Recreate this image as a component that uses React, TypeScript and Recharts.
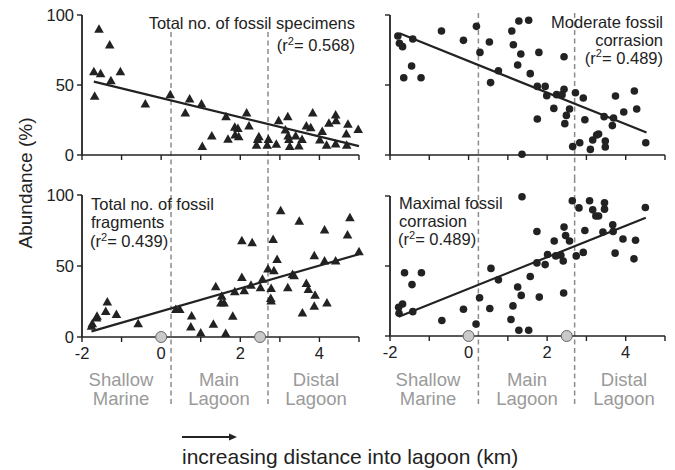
import React from 'react';
import { ScatterChart, Scatter, XAxis, YAxis, ReferenceLine } from 'recharts';

// [distance km, abundance %]
const SPECIMENS: [number, number][] = [
  [-1.7, 59.5], [-1.68, 42], [-1.57, 89.8], [-1.53, 58], [-1.3, 78.6], [-1.27, 53], [-1.03, 59.5],
  [-0.4, 36.4], [0.23, 43], [0.61, 30], [0.72, 40], [1.02, 36.4], [1.04, 6], [1.28, 13.6],
  [1.64, 27.4], [1.69, 11.2], [1.86, 19.8], [1.87, 14.3], [1.94, 19], [1.96, 13], [2.16, 30],
  [2.22, 20.7], [2.41, 7], [2.44, 11], [2.47, 13], [2.68, 7], [2.71, 11], [2.91, 7.6],
  [2.97, 24.5], [3.14, 17.9], [3.2, 27.4], [3.21, 13.6], [3.23, 11], [3.25, 6], [3.4, 13.6],
  [3.48, 6.4], [3.56, 11], [3.67, 20.7], [3.78, 19.5], [3.83, 30], [4.01, 10.7], [4.07, 16.7],
  [4.18, 6.9], [4.24, 22.6], [4.41, 28.6], [4.42, 24.5], [4.41, 7.9], [4.68, 15], [4.72, 22],
  [4.69, 7], [4.98, 18.3],
];

const MODERATE: [number, number][] = [
  [-1.8, 85], [-1.76, 79.8], [-1.68, 77.4], [-1.42, 82.9], [-1.45, 63.6], [-1.65, 55.2], [-1.21, 55.2],
  [-0.69, 88.6], [-0.13, 81.9], [0.2, 91.9], [0.29, 73.3], [0.53, 80.7], [0.76, 60.2], [0.56, 51.7],
  [1.1, 88.6], [1.14, 78.8], [1.28, 95.7], [1.53, 96.2], [1.33, 72.1], [1.25, 64.3], [1.57, 58.1],
  [1.79, 73.3], [1.75, 49], [1.75, 25.7], [1.95, 49], [1.99, 42.4], [2.17, 33.3], [2.24, 43.1],
  [2.38, 43.1], [2.43, 46.9], [2.43, 70.2], [2.49, 28.3], [2.45, 22.4], [2.57, 32.9], [2.65, 6],
  [2.72, 44.5], [2.83, 8.8], [2.92, 40.7], [2.96, 25.2], [3.1, 4], [3.16, 10.7], [3.26, 14.3],
  [3.31, 15], [3.45, 27.4], [3.48, 10], [3.48, 5.7], [3.66, 21], [3.69, 26.4], [3.74, 42.1],
  [3.95, 30.7], [4.22, 45.7], [4.28, 32.9], [4.51, 8.8], [1.36, 0.5],
];

const FRAGMENTS: [number, number][] = [
  [-1.76, 7.5], [-1.74, 9.4], [-1.63, 13.4], [-1.62, 14.6], [-1.4, 18], [-1.36, 24.7], [-1.13, 15.8],
  [-0.58, 9.4], [0.37, 19.3], [0.47, 19.3], [0.77, 14.8], [0.75, 7], [1.0, 2.8], [1.32, 9],
  [1.38, 35.3], [1.53, 28.7], [1.51, 24], [1.59, 24], [1.63, 2.4], [1.81, 14.6], [1.86, 31.8],
  [2.04, 67.8], [2.04, 41.9], [2.1, 32.5], [2.27, 36.5], [2.3, 66.4], [2.51, 34.6], [2.56, 40.7],
  [2.7, 47.8], [2.78, 34.1], [2.77, 27.1], [2.78, 25.4], [2.83, 68.7], [2.93, 54.6], [3.02, 88.9],
  [2.85, 46.6], [3.2, 34.6], [3.32, 44], [3.36, 43.1], [3.49, 81.6], [3.57, 16.9], [3.67, 37.6],
  [3.72, 33.4], [3.87, 57.2], [3.89, 29.4], [3.87, 21.6], [4.13, 75.3], [4.13, 53.6], [4.19, 24],
  [4.41, 53.6], [4.71, 71.8], [4.77, 84], [5.0, 60],
];

const MAXIMAL: [number, number][] = [
  [-1.78, 20.5], [-1.68, 22.9], [-1.77, 16.2], [-1.63, 45.2], [-1.44, 36.7], [-1.42, 17.4], [-1.2, 45.2],
  [-0.68, 11.1], [-0.13, 19.1], [0.19, 8.5], [0.28, 27.3], [0.54, 19.6], [0.57, 48.3], [0.76, 40.1],
  [1.08, 11.8], [1.13, 21.5], [1.25, 35], [1.28, 4.1], [1.34, 29], [1.36, 99.5], [1.53, 4.1],
  [1.57, 42.5], [1.74, 74.6], [1.74, 52.2], [1.8, 27.8], [1.95, 51], [2.01, 58.2], [2.18, 67.9],
  [2.22, 57.2], [2.35, 57.7], [2.41, 53.6], [2.43, 77.8], [2.47, 71.7], [2.42, 30.7], [2.57, 67.9],
  [2.64, 96.6], [2.74, 57.2], [2.81, 91.5], [2.92, 59.7], [2.96, 75.4], [3.08, 96.6], [3.16, 90.1],
  [3.24, 85.7], [3.31, 85.7], [3.42, 74.2], [3.46, 95.2], [3.46, 90.6], [3.67, 79.5], [3.68, 74.6],
  [3.73, 59.2], [3.93, 69.3], [4.21, 55.1], [4.25, 68.4], [4.5, 91.8],
];

// regression line end points
const SPECIMENS_FIT: [number, number][] = [[-1.7, 52.4], [5.0, 6.3]];
const MODERATE_FIT: [number, number][] = [[-1.76, 86.9], [4.53, 16]];
const FRAGMENTS_FIT: [number, number][] = [[-1.76, 4], [5.0, 58.3]];
const MAXIMAL_FIT: [number, number][] = [[-1.78, 13.8], [4.51, 84.5]];

const LANDMARKS: [number, number][] = [[0, 0], [2.5, 0]];
const ZONE_BOUNDS = [0.25, 2.7];
const X_TICKS = [-2, -1, 0, 1, 2, 3, 4, 5];
const Y_TICKS = [0, 50, 100];
const ZONE_NAMES = [['Shallow', 'Marine'], ['Main', 'Lagoon'], ['Distal', 'Lagoon']];

const W = 675;
const H = 470;
const INK = '#222';
const FONT = '"Liberation Sans", Arial, Helvetica, sans-serif';
const Y_AXIS_W = 40;
const X_AXIS_H = 30;

const toPts = (arr: [number, number][]) => arr.map(([x, y]) => ({ x, y }));

function Triangle(props: any) {
  const { cx, cy } = props;
  if (cx == null || cy == null) return <g />;
  return <path d={`M${cx},${cy - 5} L${cx + 4.8},${cy + 3.5} L${cx - 4.8},${cy + 3.5} Z`} fill={INK} />;
}

function Dot(props: any) {
  const { cx, cy } = props;
  if (cx == null || cy == null) return <g />;
  return <circle cx={cx} cy={cy} r={3.8} fill={INK} />;
}

function Landmark(props: any) {
  const { cx, cy } = props;
  if (cx == null || cy == null) return <g />;
  return <circle cx={cx} cy={cy} r={5.5} fill="#c9c9c9" stroke="#666" strokeWidth={1} />;
}

interface PanelProps {
  box: [number, number, number, number]; // left, top, plot width, plot height
  points: [number, number][];
  fit: [number, number][];
  shape: any;
  xLabels?: boolean;
  yLabels?: boolean;
  landmarks?: boolean;
  dash: [number, number]; // pixel top / bottom of zone dividers
}

function Panel({ box, points, fit, shape, xLabels, yLabels, landmarks, dash }: PanelProps) {
  const [left, top, pw, ph] = box;
  const toVal = (py: number) => ((top + ph - py) / ph) * 100;
  const tickStyle = { fontSize: 16.5, fill: INK, fontFamily: FONT };
  return (
    <div style={{ position: 'absolute', left: 0, top: 0 }}>
      <ScatterChart
        width={W}
        height={H}
        margin={{ top, left: left - Y_AXIS_W, right: W - left - pw, bottom: H - top - ph - X_AXIS_H }}
      >
        <XAxis
          type="number" dataKey="x" domain={[-2, 5]} ticks={X_TICKS} interval={0}
          height={X_AXIS_H} tickSize={5} tickMargin={5}
          axisLine={{ stroke: INK, strokeWidth: 1.6 }} tickLine={{ stroke: INK, strokeWidth: 1.4 }}
          tick={tickStyle}
          tickFormatter={(v: number) => (xLabels && v % 2 === 0 ? String(v) : '')}
        />
        <YAxis
          type="number" dataKey="y" domain={[0, 100]} ticks={Y_TICKS} interval={0}
          width={Y_AXIS_W} tickSize={5} tickMargin={3}
          axisLine={{ stroke: INK, strokeWidth: 1.8 }} tickLine={{ stroke: INK, strokeWidth: 1.4 }}
          tick={tickStyle}
          tickFormatter={(v: number) => (yLabels ? String(v) : '')}
        />
        {ZONE_BOUNDS.map((b) => (
          <ReferenceLine
            key={b}
            segment={[{ x: b, y: toVal(dash[0]) }, { x: b, y: toVal(dash[1]) }]}
            stroke="#8c8c8c" strokeWidth={1.5} strokeDasharray="5 3.5" ifOverflow="visible"
          />
        ))}
        <ReferenceLine
          segment={fit.map(([x, y]) => ({ x, y }))}
          stroke={INK} strokeWidth={2.2} ifOverflow="visible"
        />
        <Scatter data={toPts(points)} shape={shape} isAnimationActive={false} />
        {landmarks && (
          <Scatter data={toPts(LANDMARKS)} shape={<Landmark />} isAnimationActive={false} />
        )}
      </ScatterChart>
    </div>
  );
}

function R2({ x, y, anchor, value }: { x: number; y: number; anchor: 'start' | 'end'; value: string }) {
  return (
    <text x={x} y={y} textAnchor={anchor}>
      (r<tspan fontSize={11} dy={-6.5}>2</tspan>
      <tspan dy={6.5}>= {value})</tspan>
    </text>
  );
}

const LEFT_CENTERS = [121, 219, 316];
const RIGHT_CENTERS = [428, 527, 624];

export default function App() {
  return (
    <div style={{ position: 'absolute', left: 0, top: 0, width: W, height: H, background: '#fff', fontFamily: FONT }}>
      <Panel box={[82, 15, 277, 140]} points={SPECIMENS} fit={SPECIMENS_FIT} shape={<Triangle />} yLabels dash={[32, 178]} />
      <Panel box={[390, 15, 275, 140]} points={MODERATE} fit={MODERATE_FIT} shape={<Dot />} dash={[13, 178]} />
      <Panel box={[82, 195, 277, 142]} points={FRAGMENTS} fit={FRAGMENTS_FIT} shape={<Triangle />} xLabels yLabels landmarks dash={[178, 407]} />
      <Panel box={[390, 196, 275, 140]} points={MAXIMAL} fit={MAXIMAL_FIT} shape={<Dot />} xLabels landmarks dash={[178, 407]} />

      <svg width={W} height={H} style={{ position: 'absolute', left: 0, top: 0, pointerEvents: 'none' }}
        fontFamily={FONT} fill={INK}>
        <g fontSize={16.5}>
          <text x={355} y={29} textAnchor="end">Total no. of fossil specimens</text>
          <R2 x={355} y={51} anchor="end" value="0.568" />

          <text x={663} y={27.5} textAnchor="end">Moderate fossil</text>
          <text x={663} y={45.5} textAnchor="end">corrasion</text>
          <R2 x={663} y={63.5} anchor="end" value="0.489" />

          <text x={91} y={210}>Total no. of fossil</text>
          <text x={91} y={228}>fragments</text>
          <R2 x={90} y={247} anchor="start" value="0.439" />

          <text x={399} y={208.5}>Maximal fossil</text>
          <text x={399} y={226.5}>corrasion</text>
          <R2 x={398} y={245} anchor="start" value="0.489" />
        </g>

        <g fontSize={18.5} fill="#9a9a9a" textAnchor="middle">
          {ZONE_NAMES.map((lines, i) => (
            <g key={i}>
              <text x={LEFT_CENTERS[i]} y={386}>{lines[0]}</text>
              <text x={LEFT_CENTERS[i]} y={405}>{lines[1]}</text>
              <text x={RIGHT_CENTERS[i]} y={386}>{lines[0]}</text>
              <text x={RIGHT_CENTERS[i]} y={405}>{lines[1]}</text>
            </g>
          ))}
        </g>

        <text transform="translate(32,183) rotate(-90)" textAnchor="middle" fontSize={19}>Abundance (%)</text>

        <line x1={182} y1={437} x2={230} y2={437} stroke={INK} strokeWidth={2} />
        <path d="M237,437 L229,433.5 L229,440.5 Z" fill={INK} />
        <text x={182} y={464} fontSize={21}>increasing distance into lagoon (km)</text>
      </svg>
    </div>
  );
}
